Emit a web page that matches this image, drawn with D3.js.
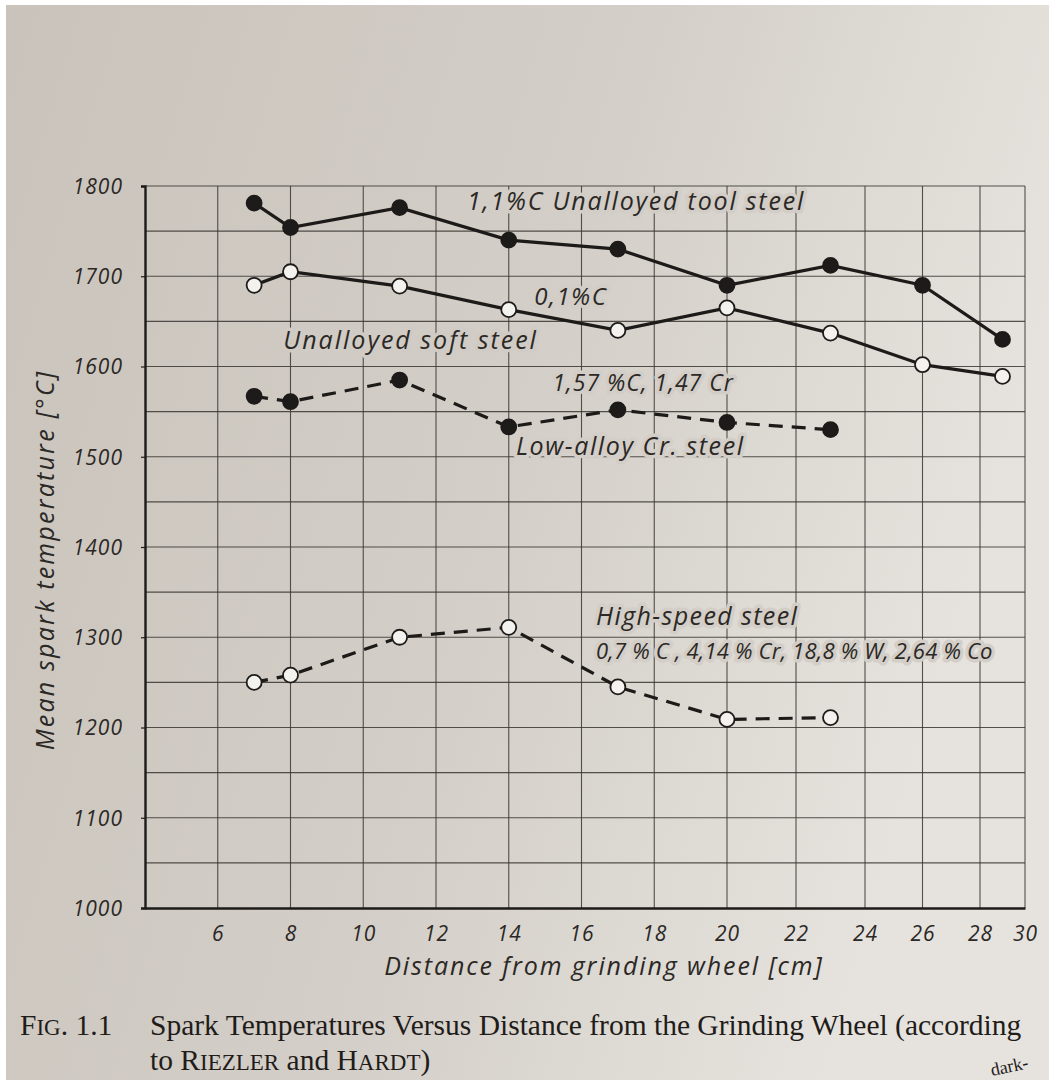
<!DOCTYPE html>
<html>
<head>
<meta charset="utf-8">
<script src="https://cdn.jsdelivr.net/npm/d3@7"></script>
<style>
  html, body { margin: 0; padding: 0; background: #fff; }
  svg { display: block; }
  .tech { font-family: "Open Sans", "DejaVu Sans", sans-serif; font-style: italic; fill: #2b2825; }
  .cap { font-family: "Liberation Serif", "DejaVu Serif", serif; fill: #1f1c1a; }
</style>
</head>
<body>
<svg id="chart" width="1049" height="1080"></svg>
<script>
// distances [cm]
var distance = [7, 8, 11, 14, 17, 20, 23, 26, 29];
var distanceShort = [7, 8, 11, 14, 17, 20, 23];

// mean spark temperature [°C]
var toolSteel = [1781, 1754, 1776, 1740, 1730, 1690, 1712, 1690, 1630];
var softSteel = [1690, 1705, 1689, 1663, 1640, 1665, 1637, 1602, 1589];
var lowAlloySteel = [1567, 1561, 1585, 1533, 1552, 1538, 1530];
var highSpeedSteel = [1250, 1258, 1300, 1311, 1245, 1209, 1211];

var xTicks = [6, 8, 10, 12, 14, 16, 18, 20, 22, 24, 26, 28, 30];
var yTicks = [1000, 1100, 1200, 1300, 1400, 1500, 1600, 1700, 1800];

var svg = d3.select('#chart');

// paper background (photo of a book page)
var defs = svg.append('defs');
var grad = defs.append('linearGradient').attr('id', 'paper')
  .attr('x1', '0').attr('y1', '0').attr('x2', '1').attr('y2', '0.3');
grad.append('stop').attr('offset', '0').attr('stop-color', '#c9c3bb');
grad.append('stop').attr('offset', '0.55').attr('stop-color', '#d3cec7');
grad.append('stop').attr('offset', '1').attr('stop-color', '#e6e3de');
svg.append('rect').attr('x', 6).attr('y', 5).attr('width', 1043).attr('height', 1075)
  .attr('fill', 'url(#paper)');

// scales: the right hand part of the page bends away, so the x scale is piecewise
var x = d3.scaleLinear().domain([4, 20, 24, 28, 30]).range([145, 727, 865, 980, 1025]);
var y = d3.scaleLinear().domain([1000, 1800]).range([908, 186]);

var ink = '#1d1b19';
var g = svg.append('g');

// grid
g.append('g').selectAll('line').data(d3.range(1050, 1801, 50)).enter().append('line')
  .attr('x1', x(4)).attr('x2', x(30))
  .attr('y1', function(d) { return y(d); }).attr('y2', function(d) { return y(d); })
  .attr('stroke', '#3a3632').attr('stroke-width', 1.1).attr('opacity', 0.85);
g.append('g').selectAll('line').data(xTicks).enter().append('line')
  .attr('y1', y(1000)).attr('y2', y(1800))
  .attr('x1', function(d) { return x(d); }).attr('x2', function(d) { return x(d); })
  .attr('stroke', '#3a3632').attr('stroke-width', 1.1).attr('opacity', 0.85);

// axes
var xAxis = d3.axisBottom(x).tickValues(xTicks).tickSize(0).tickPadding(14);
var yAxis = d3.axisLeft(y).tickValues(yTicks).tickFormat(d3.format('d')).tickSize(4).tickPadding(18);

var gx = g.append('g').attr('transform', 'translate(0,' + y(1000) + ')').call(xAxis);
var gy = g.append('g').attr('transform', 'translate(' + x(4) + ',0)').call(yAxis);
[gx, gy].forEach(function(a) {
  a.select('.domain').attr('stroke', ink).attr('stroke-width', 2.4);
  a.selectAll('.tick line').attr('stroke', ink).attr('stroke-width', 1.2);
  a.selectAll('.tick text').attr('class', 'tech').attr('font-size', 21).attr('fill', '#2b2825')
    .attr('letter-spacing', 1);
});
gx.selectAll('.tick text').attr('dy', '0.9em');
gy.selectAll('.tick text').attr('dy', '0.35em');

// series
var line = d3.line()
  .x(function(d) { return x(d[0]); })
  .y(function(d) { return y(d[1]); });

var series = [
  { xs: distance, ys: toolSteel, filled: true, dashed: false },
  { xs: distance, ys: softSteel, filled: false, dashed: false },
  { xs: distanceShort, ys: lowAlloySteel, filled: true, dashed: true },
  { xs: distanceShort, ys: highSpeedSteel, filled: false, dashed: true }
];

// label texts, drawn with a paper coloured halo so the grid breaks round them
function label(txt, px, py, size, sp, halo) {
  g.append('text').attr('class', 'tech').attr('x', px).attr('y', py)
    .attr('font-size', size).attr('letter-spacing', sp)
    .attr('stroke', halo).attr('stroke-width', 7).attr('paint-order', 'stroke')
    .attr('stroke-linejoin', 'round')
    .text(txt);
}
label('1,1%C  Unalloyed  tool  steel', x(12.85), y(1773), 25, 1.8, '#d2cdc6');
label('0,1%C', x(14.7), y(1668), 24, 1.5, '#d2cdc6');
label('Unalloyed  soft  steel', x(7.8), y(1619), 25, 2, '#d0cbc4');
label('1,57 %C,  1,47 Cr', x(15.2), y(1573), 23, 1, '#d2cdc6');
label('Low-alloy  Cr. steel', x(14.2), y(1502), 25, 1.6, '#d3cec7');
label('High-speed  steel', x(16.4), y(1314), 25, 1.4, '#d3cec7');
label('0,7 % C ,  4,14 % Cr,  18,8 % W,  2,64 % Co', x(16.4), y(1276), 22, 0.2, '#d3cec7');

series.forEach(function(s) {
  var pts = s.xs.map(function(d, i) { return [d, s.ys[i]]; });
  g.append('path').datum(pts).attr('d', line)
    .attr('fill', 'none').attr('stroke', ink).attr('stroke-width', 3.2)
    .attr('stroke-dasharray', s.dashed ? '14,9' : null);
  g.append('g').selectAll('circle').data(pts).enter().append('circle')
    .attr('cx', function(d) { return x(d[0]); })
    .attr('cy', function(d) { return y(d[1]); })
    .attr('r', 7.5)
    .attr('fill', s.filled ? ink : '#f4f2ee')
    .attr('stroke', ink).attr('stroke-width', 1.8);
});

// axis titles
g.append('text').attr('class', 'tech').attr('x', 604).attr('y', 975)
  .attr('text-anchor', 'middle').attr('font-size', 25).attr('letter-spacing', 1.9)
  .text('Distance from grinding wheel [cm]');
g.append('text').attr('class', 'tech')
  .attr('transform', 'translate(54,560) rotate(-90)')
  .attr('text-anchor', 'middle').attr('font-size', 25).attr('letter-spacing', 2.2)
  .text('Mean spark temperature [°C]');

// caption
var cap = svg.append('text').attr('class', 'cap').attr('x', 20).attr('y', 1035).attr('font-size', 29.5);
cap.append('tspan').text('F');
cap.append('tspan').attr('font-size', 23).text('IG');
cap.append('tspan').text('. 1.1');
cap.append('tspan').attr('x', 150).text('Spark Temperatures Versus Distance from the Grinding Wheel (according');
var cap2 = svg.append('text').attr('class', 'cap').attr('x', 150).attr('y', 1070).attr('font-size', 29.5);
cap2.append('tspan').text('to R');
cap2.append('tspan').attr('font-size', 23).text('IEZLER');
cap2.append('tspan').text(' and H');
cap2.append('tspan').attr('font-size', 23).text('ARDT');
cap2.append('tspan').text(')');
svg.append('text').attr('class', 'cap').attr('x', 992).attr('y', 1076)
  .attr('font-size', 18).attr('transform', 'rotate(-12,992,1076)').text('dark-');
</script>
</body>
</html>
